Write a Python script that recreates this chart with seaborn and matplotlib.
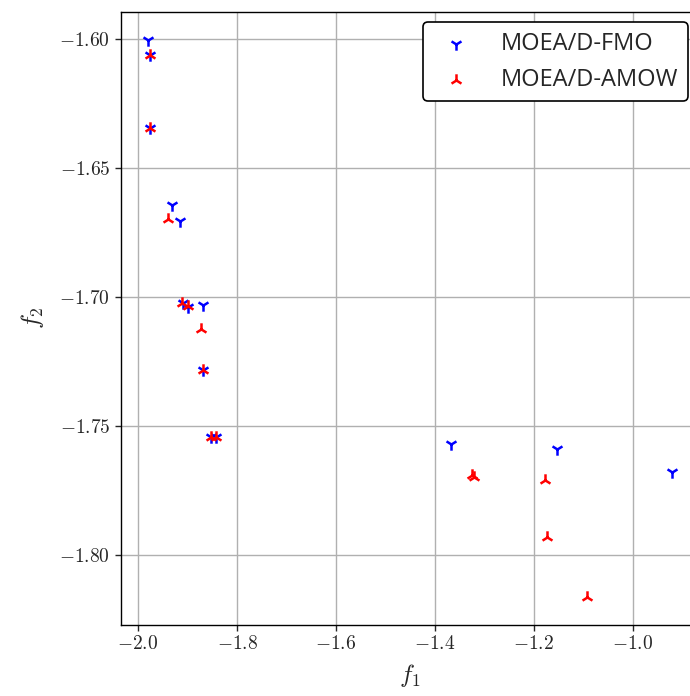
import numpy as np
import pandas as pd
import seaborn as sns
import matplotlib.pyplot as plt
from matplotlib.ticker import FuncFormatter

# objective values
fmo_f1 = [-1.980, -1.976, -1.976, -1.931, -1.915, -1.909, -1.899, -1.869,
          -1.868, -1.852, -1.843, -1.368, -1.154, -0.921]
fmo_f2 = [-1.6004, -1.6062, -1.6345, -1.6643, -1.6704, -1.7023, -1.7039, -1.7030,
          -1.7283, -1.7540, -1.7540, -1.7570, -1.7590, -1.7677]

amow_f1 = [-1.976, -1.976, -1.939, -1.911, -1.899, -1.873, -1.868, -1.852,
           -1.843, -1.326, -1.321, -1.178, -1.174, -1.092]
amow_f2 = [-1.6062, -1.6345, -1.6698, -1.7023, -1.7035, -1.7124, -1.7283, -1.7540,
           -1.7540, -1.7690, -1.7698, -1.7707, -1.7929, -1.8162]

fmo = pd.DataFrame({"f1": fmo_f1, "f2": fmo_f2})
amow = pd.DataFrame({"f1": amow_f1, "f2": amow_f2})

sns.set_style("white")
plt.rcParams['font.family'] = ['Open Sans', 'DejaVu Sans']
plt.rcParams['mathtext.fontset'] = 'cm'

fig, ax = plt.subplots(figsize=(6.9, 6.96), dpi=100)
# right edge of the axes runs past the figure, as in the reference
fig.subplots_adjust(left=0.175, right=1.012, bottom=0.102, top=0.983)

sns.scatterplot(data=fmo, x="f1", y="f2", marker="1", color="blue", s=80,
                linewidth=1.8, label="MOEA/D-FMO", ax=ax)
sns.scatterplot(data=amow, x="f1", y="f2", marker="2", color="red", s=80,
                linewidth=1.8, label="MOEA/D-AMOW", ax=ax)

ax.set_xlim(-2.035, -0.868)
ax.set_ylim(-1.827, -1.5895)
ax.set_xticks([-2.0, -1.8, -1.6, -1.4, -1.2, -1.0])
ax.set_yticks([-1.60, -1.65, -1.70, -1.75, -1.80])
ax.xaxis.set_major_formatter(FuncFormatter(lambda v, p: r"$%.1f$" % v))
ax.yaxis.set_major_formatter(FuncFormatter(lambda v, p: r"$%.2f$" % v))
ax.tick_params(labelsize=14, length=4, width=1, direction="out", left=True, bottom=True)
ax.set_xlabel(r"$f_1$", fontsize=18, labelpad=6)
ax.set_ylabel(r"$f_2$", fontsize=18, labelpad=10)
ax.grid(True, color="#b0b0b0", linewidth=1)
ax.set_axisbelow(True)
for sp in ax.spines.values():
    sp.set_color("black")
    sp.set_linewidth(1)

leg = ax.legend(loc="upper right", fontsize=17, handletextpad=0.9, borderpad=0.4,
                framealpha=1, edgecolor="black", borderaxespad=0.45)
leg.get_frame().set_linewidth(1.2)

plt.savefig("out.png", dpi=100)
